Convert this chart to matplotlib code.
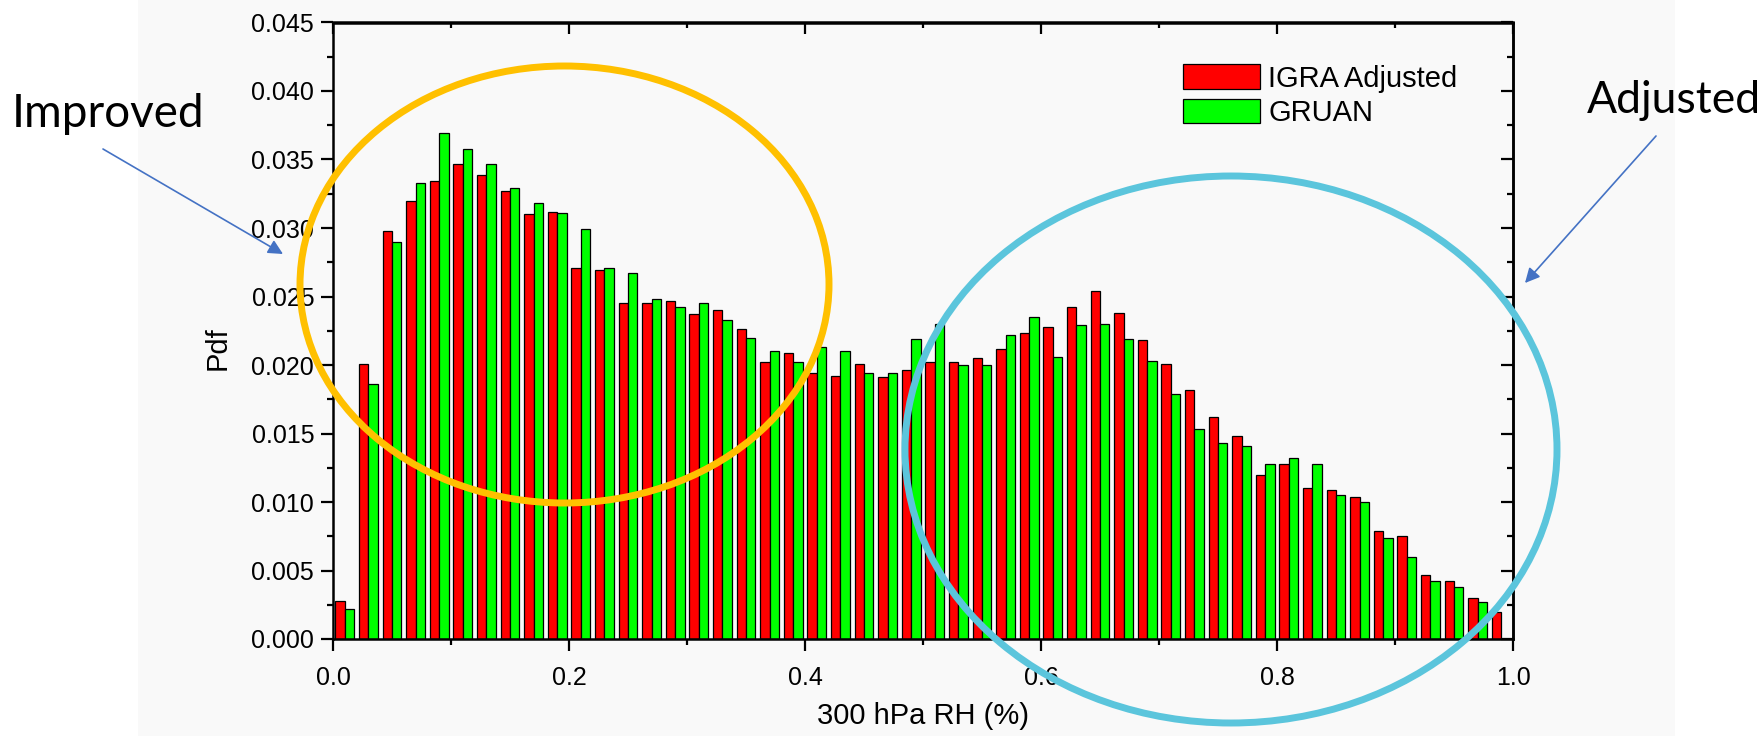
import numpy as np
import matplotlib
matplotlib.use('Agg')
import matplotlib.pyplot as plt
from matplotlib.patches import Ellipse, Rectangle
from matplotlib.ticker import MultipleLocator, FormatStrFormatter

# bin left edges of the 300 hPa RH histogram (50 bins of 0.02)
bin_edges = np.round(np.arange(0.0, 1.0, 0.02), 2)

igra_adjusted = [0.0028, 0.0201, 0.0298, 0.0320, 0.0334, 0.0347, 0.0339, 0.0327, 0.0310, 0.0312,
                 0.0271, 0.0269, 0.0245, 0.0245, 0.0247, 0.0237, 0.0240, 0.0226, 0.0202, 0.0209,
                 0.0194, 0.0192, 0.0201, 0.0191, 0.0196, 0.0202, 0.0202, 0.0205, 0.0212, 0.0223,
                 0.0228, 0.0242, 0.0254, 0.0238, 0.0218, 0.0201, 0.0182, 0.0162, 0.0148, 0.0120,
                 0.0128, 0.0110, 0.0109, 0.0104, 0.0079, 0.0075, 0.0047, 0.0042, 0.0030, 0.0020]

gruan = [0.0022, 0.0186, 0.0290, 0.0333, 0.0369, 0.0358, 0.0347, 0.0329, 0.0318, 0.0311,
         0.0299, 0.0271, 0.0267, 0.0248, 0.0242, 0.0245, 0.0233, 0.0220, 0.0210, 0.0202,
         0.0213, 0.0210, 0.0194, 0.0194, 0.0219, 0.0230, 0.0200, 0.0200, 0.0222, 0.0235,
         0.0206, 0.0229, 0.0230, 0.0219, 0.0203, 0.0179, 0.0153, 0.0143, 0.0141, 0.0128,
         0.0132, 0.0128, 0.0105, 0.0100, 0.0074, 0.0060, 0.0042, 0.0038, 0.0027, 0.0000]

series_names = ['IGRA Adjusted', 'GRUAN']
x_label = '300 hPa RH (%)'
y_label = 'Pdf'

W, H = 1762, 736
BG = '#f9f9f9'

plt.rcParams['font.family'] = ['Liberation Sans', 'DejaVu Sans']

fig = plt.figure(figsize=(W / 100, H / 100), dpi=100)
fig.patch.set_facecolor('white')
# light grey slide-like panel behind the chart
fig.add_artist(Rectangle((138 / W, 0), (1675 - 138) / W, 1, transform=fig.transFigure,
                         facecolor=BG, edgecolor='none', zorder=-10))

ax = fig.add_axes([333 / W, 1 - 639 / H, 1180 / W, 616.5 / H])
ax.patch.set_alpha(0)

bw = 0.008
ax.bar(bin_edges + 0.002, igra_adjusted, width=bw, align='edge', color='#ff0000',
       edgecolor='black', linewidth=0.9, label=series_names[0], zorder=2)
ax.bar(bin_edges + 0.002 + bw, gruan, width=bw, align='edge', color='#00ff00',
       edgecolor='black', linewidth=0.9, label=series_names[1], zorder=2)

ax.set_xlim(0, 1.0)
ax.set_ylim(0, 0.045)
ax.xaxis.set_major_locator(MultipleLocator(0.2))
ax.xaxis.set_minor_locator(MultipleLocator(0.1))
ax.yaxis.set_major_locator(MultipleLocator(0.005))
ax.yaxis.set_minor_locator(MultipleLocator(0.0025))
ax.xaxis.set_major_formatter(FormatStrFormatter('%.1f'))
ax.yaxis.set_major_formatter(FormatStrFormatter('%.3f'))

for s in ax.spines.values():
    s.set_linewidth(1.8)

ax.tick_params(which='both', top=False, right=False, direction='out', width=1.6, labelsize=18)
ax.tick_params(which='major', length=8.5)
ax.tick_params(which='minor', length=4.5)
ax.tick_params(axis='x', pad=11)
ax.tick_params(axis='y', pad=5)

# mirrored inward ticks on top and right, Origin style
top = ax.secondary_xaxis('top')
top.xaxis.set_major_locator(MultipleLocator(0.2))
top.xaxis.set_minor_locator(MultipleLocator(0.1))
top.tick_params(which='both', direction='in', width=1.6, labeltop=False)
top.tick_params(which='major', length=8.5)
top.tick_params(which='minor', length=4.5)
top.spines['top'].set_linewidth(1.8)
right = ax.secondary_yaxis('right')
right.yaxis.set_major_locator(MultipleLocator(0.005))
right.yaxis.set_minor_locator(MultipleLocator(0.0025))
right.tick_params(which='both', direction='in', width=1.6, labelright=False)
right.tick_params(which='major', length=8.5)
right.tick_params(which='minor', length=4.5)
right.spines['right'].set_linewidth(1.8)

ax.set_xlabel(x_label, fontsize=21)
ax.set_ylabel(y_label, fontsize=21)
ax.xaxis.set_label_coords(0.5, -0.103)
ax.yaxis.set_label_coords(-0.086, 0.472)

ax.legend(loc='upper left', bbox_to_anchor=(0.72, 0.932), frameon=False, fontsize=21,
          handlelength=2.64, handleheight=0.93, handletextpad=0.3, labelspacing=0.2,
          borderpad=0, borderaxespad=0)

# highlight ellipses drawn over the chart
fig.add_artist(Ellipse((564.5 / W, 1 - 284.5 / H), 529 / W, 437 / H, transform=fig.transFigure,
                       fill=False, edgecolor='#ffc000', linewidth=5, zorder=5))
fig.add_artist(Ellipse((1231 / W, 1 - 449.5 / H), 652 / W, 547 / H, transform=fig.transFigure,
                       fill=False, edgecolor='#5bc5dc', linewidth=5, zorder=5))

arrow = dict(arrowstyle='-|>', color='#4472c4', lw=1.2, mutation_scale=22, shrinkA=0, shrinkB=0)
fig.text(12 / W, 1 - 127 / H, 'Improved', fontsize=33, family='Lato', va='baseline')
fig.add_artist(plt.Annotation('', xy=(283, H - 254), xytext=(103, H - 149),
                              xycoords='figure pixels', textcoords='figure pixels',
                              arrowprops=arrow))
fig.text(1587 / W, 1 - 113 / H, 'Adjusted', fontsize=32, family='Lato', va='baseline')
fig.add_artist(plt.Annotation('', xy=(1525, H - 283), xytext=(1656, H - 136),
                              xycoords='figure pixels', textcoords='figure pixels',
                              arrowprops=arrow))

fig.savefig('out.png', dpi=100)
